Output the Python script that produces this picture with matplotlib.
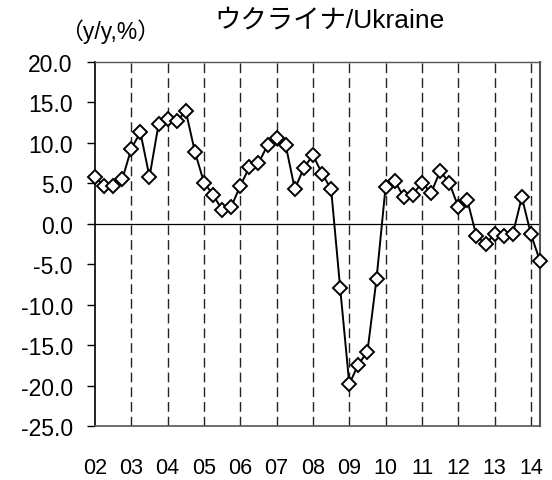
import matplotlib
matplotlib.use("Agg")
import matplotlib.pyplot as plt
import numpy as np

year_labels = ["02", "03", "04", "05", "06", "07", "08", "09", "10", "11", "12", "13", "14"]
values = [5.8, 4.7, 4.7, 5.5, 9.3, 11.3, 5.8, 12.3, 13.0, 12.7, 13.9, 8.9,
          5.1, 3.6, 1.7, 2.1, 4.7, 7.0, 7.5, 9.7, 10.6, 9.7, 4.3, 6.9,
          8.5, 6.2, 4.3, -8.0, -19.8, -17.4, -15.8, -6.8, 4.6, 5.3, 3.3, 3.6,
          5.1, 3.8, 6.5, 5.1, 2.1, 2.9, -1.5, -2.5, -1.3, -1.5, -1.3, 3.3,
          -1.3, -4.6]
yticks = [20, 15, 10, 5, 0, -5, -10, -15, -20, -25]

plt.rcParams['font.family'] = ['Liberation Sans', 'Noto Sans CJK JP', 'DejaVu Sans']

fig = plt.figure(figsize=(5.52, 4.81), dpi=100)
ax = fig.add_axes([95/552, 1-427/481, (540-95)/552, (427-63)/481])

x = np.arange(len(values))
ax.plot(x, values, color='black', lw=1.4, marker='D', markersize=7.5,
        markerfacecolor='white', markeredgecolor='black', markeredgewidth=1.4,
        zorder=3, clip_on=False)
ax.axhline(0, color='black', lw=0.9, zorder=2)

year_pos = np.arange(len(year_labels)) * 4
for p in year_pos[1:]:
    ax.axvline(p, color='#222222', lw=1.0, ls=(0, (7, 3.6)), zorder=1)

ax.set_xlim(0, len(values) - 1)
ax.set_ylim(-25, 20)
ax.set_yticks(yticks)
ax.set_yticklabels([f"{v:.1f}" for v in yticks], fontsize=16.5)
ax.set_xticks(year_pos)
ax.set_xticklabels(year_labels, fontsize=15.5)
ax.tick_params(axis='x', length=0, pad=22)
ax.tick_params(axis='y', direction='out', length=6, width=1, pad=10)

ax.spines['left'].set_color('black')
ax.spines['left'].set_linewidth(1.2)
ax.spines['bottom'].set_color('#555555')
ax.spines['bottom'].set_linewidth(1.2)
ax.spines['top'].set_color('#555555')
ax.spines['top'].set_linewidth(1.0)
ax.spines['right'].set_color('#555555')
ax.spines['right'].set_linewidth(1.5)

fig.text(330/552, 1-21/481, "ウクライナ/Ukraine", ha='center', va='center', fontsize=19)
fig.text(110/552, 1-32/481, "（y/y,%）", ha='center', va='center', fontsize=16.5)

fig.savefig("out.png", dpi=100)
